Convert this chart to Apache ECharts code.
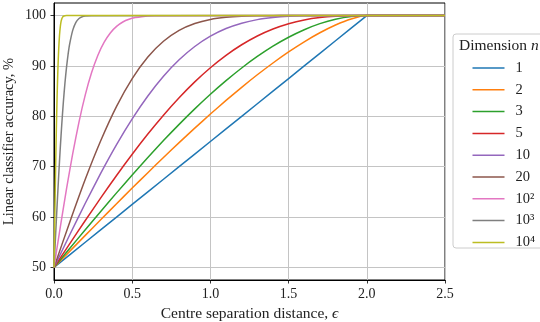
<!DOCTYPE html>
<html>
<head>
<meta charset="utf-8">
<script src="https://cdn.jsdelivr.net/npm/echarts@6/dist/echarts.min.js"></script>
<style>html,body{margin:0;padding:0;background:#fff}#c{width:540px;height:322px}</style>
</head>
<body>
<div id="c"></div>
<script>
// ---- data ----
const dimLabels = ['1', '2', '3', '5', '10', '20', '10\u00b2', '10\u00b3', '10\u2074'];
const yTicks = [50, 60, 70, 80, 90, 100];
const xTicks = [0, 0.5, 1.0, 1.5, 2.0, 2.5];

const epsA = [0, 0.1, 0.2, 0.3, 0.4, 0.5, 0.6, 0.7, 0.8, 0.9, 1.0, 1.1, 1.2, 1.3, 1.4, 1.5, 1.6, 1.7, 1.8, 1.9, 2.0, 2.5];
const accN1 = [50, 52.5, 55, 57.5, 60, 62.5, 65, 67.5, 70, 72.5, 75, 77.5, 80, 82.5, 85, 87.5, 90, 92.5, 95, 97.5, 100, 100];
const accN2 = [50, 53.18, 56.36, 59.51, 62.65, 65.75, 68.81, 71.82, 74.77, 77.65, 80.45, 83.16, 85.76, 88.25, 90.59, 92.79, 94.80, 96.59, 98.13, 99.33, 100, 100];
const accN3 = [50, 53.75, 57.48, 61.17, 64.80, 68.36, 71.83, 75.18, 78.40, 81.47, 84.38, 87.09, 89.60, 91.88, 93.93, 95.70, 97.20, 98.40, 99.28, 99.82, 100, 100];
const accN5 = [50, 54.68, 59.31, 63.85, 68.26, 72.48, 76.48, 80.23, 83.69, 86.84, 89.65, 92.11, 94.21, 95.95, 97.34, 98.39, 99.14, 99.62, 99.88, 99.98, 100, 100];
const accN10 = [50, 56.44, 62.74, 68.76, 74.38, 79.49, 84.03, 87.95, 91.22, 93.86, 95.91, 97.43, 98.49, 99.20, 99.61, 99.85, 99.95, 99.98, 99.99, 100, 100, 100];
const accN20 = [50, 58.94, 67.51, 75.25, 81.99, 87.50, 91.79, 94.91, 97.07, 98.43, 99.24, 99.67, 99.88, 99.96, 99.99, 100, 100, 100, 100, 100, 100, 100];

const epsN100 = [0, 0.04, 0.08, 0.12, 0.16, 0.20, 0.24, 0.28, 0.32, 0.36, 0.40, 0.44, 0.48, 0.52, 0.56, 0.64, 0.72, 2.5];
const accN100 = [50, 57.95, 65.59, 72.64, 78.91, 84.26, 88.64, 92.09, 94.68, 96.56, 97.86, 98.73, 99.27, 99.60, 99.79, 99.95, 99.99, 100];

const epsN1000 = [0, 0.01, 0.02, 0.03, 0.04, 0.05, 0.06, 0.07, 0.08, 0.09, 0.10, 0.12, 0.14, 0.16, 0.18, 0.20, 0.24, 2.5];
const accN1000 = [50, 56.29, 62.42, 68.25, 73.67, 78.57, 82.89, 86.61, 89.73, 92.28, 94.33, 97.12, 98.67, 99.43, 99.78, 99.92, 99.99, 100];

const epsN10000 = [0, 0.005, 0.01, 0.015, 0.02, 0.025, 0.03, 0.035, 0.04, 0.045, 0.05, 0.055, 0.06, 0.07, 0.08, 2.5];
const accN10000 = [50, 59.87, 69.15, 77.34, 84.13, 89.44, 93.32, 95.99, 97.72, 98.78, 99.38, 99.70, 99.87, 99.98, 100, 100];

const colors = ['#1f77b4', '#ff7f0e', '#2ca02c', '#d62728', '#9467bd', '#8c564b', '#e377c2', '#7f7f7f', '#bcbd22'];

const seriesX = [epsA, epsA, epsA, epsA, epsA, epsA, epsN100, epsN1000, epsN10000];
const seriesY = [accN1, accN2, accN3, accN5, accN10, accN20, accN100, accN1000, accN10000];

const FONT = '"Liberation Serif", "DejaVu Serif", serif';
const TXT = '#222';

const series = dimLabels.map((name, i) => ({
  name: name,
  type: 'line',
  data: seriesX[i].map((x, k) => [x, seriesY[i][k]]),
  showSymbol: false,
  symbol: 'none',
  smooth: i === 0 ? false : 0.2,
  lineStyle: { color: colors[i], width: 1.5 },
  itemStyle: { color: colors[i] },
  emphasis: { disabled: true },
  silent: true,
  z: 3 + i
}));

const chart = echarts.init(document.getElementById('c'), null, { renderer: 'canvas' });
chart.setOption({
  animation: false,
  backgroundColor: '#fff',
  color: colors,
  grid: { left: 54, right: 95, top: 3, bottom: 42, show: true, borderColor: '#000', borderWidth: 1, backgroundColor: 'transparent', containLabel: false, outerBoundsMode: 'none' },
  xAxis: {
    type: 'value', min: 0, max: 2.5, interval: 0.5,
    name: 'Centre separation distance, {i|\u03f5}',
    nameLocation: 'middle', nameGap: 21,
    nameTextStyle: { fontFamily: FONT, fontSize: 15.5, color: TXT, rich: { i: { fontFamily: FONT, fontSize: 15.5, fontStyle: 'italic', color: TXT } } },
    axisLine: { show: true, lineStyle: { color: '#000', width: 1 } },
    axisTick: { show: true, inside: false, length: 3.5, lineStyle: { color: '#000', width: 0.8 } },
    axisLabel: { fontFamily: FONT, fontSize: 14, color: TXT, margin: 7, formatter: v => v.toFixed(1) },
    splitLine: { show: true, lineStyle: { color: '#c4c4c4', width: 1 } }
  },
  yAxis: {
    type: 'value', min: 47.5, max: 102.5,
    name: 'Linear classifier accuracy, %',
    nameLocation: 'middle', nameGap: 37, nameRotate: 90, nameMoveOverlap: false,
    nameTextStyle: { fontFamily: FONT, fontSize: 14.5, color: TXT },
    axisLine: { show: true, lineStyle: { color: '#000', width: 1 } },
    axisTick: { show: true, inside: false, length: 3.5, customValues: yTicks, lineStyle: { color: '#000', width: 0.8 } },
    axisLabel: { fontFamily: FONT, fontSize: 14, color: TXT, margin: 8, customValues: yTicks },
    splitLine: { show: true, customValues: yTicks, lineStyle: { color: '#c4c4c4', width: 1 } }
  },
  legend: {
    orient: 'vertical', left: 467.5, top: 55.5,
    data: dimLabels,
    icon: 'rect', itemWidth: 32, itemHeight: 1.5, itemGap: 6.8,
    textStyle: { fontFamily: FONT, fontSize: 14.5, color: TXT, lineHeight: 14, padding: [0, 0, 0, 6] },
    selectedMode: false
  },
  graphic: [
    { type: 'rect', z: 0, silent: true, shape: { x: 453, y: 34, width: 100, height: 214, r: 3 }, style: { fill: '#fff', stroke: '#cccccc', lineWidth: 1 } },
    { type: 'text', z: 10, silent: true, style: { x: 459, y: 38, text: 'Dimension {i|n}', fontFamily: FONT, fontSize: 15.5, fill: TXT, rich: { i: { fontFamily: FONT, fontSize: 15.5, fontStyle: 'italic', fill: TXT } } } }
  ],
  series: series
});
</script>
</body>
</html>
